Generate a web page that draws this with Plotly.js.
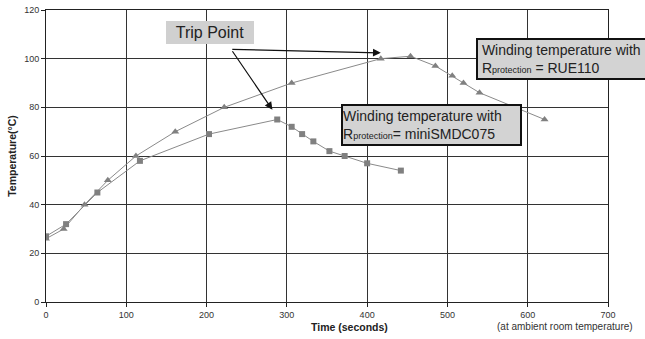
<!DOCTYPE html>
<html>
<head>
<meta charset="utf-8">
<script src="https://cdn.plot.ly/plotly-3.0.1.min.js"></script>
<style>html,body{margin:0;padding:0;background:#fff;}#chart{width:645px;height:339px;}</style>
</head>
<body>
<div id="chart"></div>
<script>
// RUE110 series (triangles)
const rueTime = [0, 22, 48, 77, 112, 161, 222, 306, 417, 454, 485, 506, 520, 540, 621];
const rueTemp = [26, 30, 40, 50, 60, 70, 80, 90, 100, 101, 97, 93, 90, 86, 75];
// miniSMDC075 series (squares)
const smdTime = [0, 25, 64, 117, 203, 288, 306, 319, 333, 353, 372, 400, 442];
const smdTemp = [27, 32, 45, 58, 69, 75, 72, 69, 66, 62, 60, 57, 54];
const xTicks = [0, 100, 200, 300, 400, 500, 600, 700];
const yTicks = [0, 20, 40, 60, 80, 100, 120];

const FONT = 'Liberation Sans, Arial, sans-serif';
const traces = [
  {x: rueTime, y: rueTemp, type: 'scatter', mode: 'lines+markers', name: 'RUE110',
   line: {color: '#8a8a8a', width: 1}, marker: {symbol: 'triangle-up', size: 7, color: '#808080'}},
  {x: smdTime, y: smdTemp, type: 'scatter', mode: 'lines+markers', name: 'miniSMDC075',
   line: {color: '#8a8a8a', width: 1}, marker: {symbol: 'square', size: 6, color: '#808080'}}
];

const layout = {
  width: 645, height: 339,
  margin: {l: 46, r: 37, t: 10, b: 37},
  paper_bgcolor: '#fff', plot_bgcolor: '#fff',
  showlegend: false,
  font: {family: FONT, color: '#333', size: 9},
  xaxis: {range: [0, 700], tickvals: xTicks, ticktext: xTicks.map(String),
    showgrid: true, gridcolor: '#333', gridwidth: 1, zeroline: false,
    showline: true, linecolor: '#222', linewidth: 1, mirror: true,
    ticks: 'outside', ticklen: 4, tickcolor: '#222', tickfont: {size: 9, color: '#333'}},
  yaxis: {range: [0, 120], tickvals: yTicks, ticktext: yTicks.map(String),
    showgrid: true, gridcolor: '#333', gridwidth: 1, zeroline: false,
    showline: true, linecolor: '#222', linewidth: 1, mirror: true,
    ticks: 'outside', ticklen: 4, tickcolor: '#222', tickfont: {size: 9, color: '#333'},
    title: {text: 'Temperature(°C)', font: {size: 10.5, color: '#222', family: FONT, weight: 'bold'}, standoff: 5},
    automargin: false},
  annotations: [
    {text: '<b>Time (seconds)</b>', xref: 'paper', yref: 'paper', x: (349 - 46) / 562, y: -(326.5 - 301.7) / 291.7,
     xanchor: 'center', yanchor: 'middle', showarrow: false, font: {size: 10.5, color: '#222'}},
    {text: '(at ambient room temperature)', xref: 'paper', yref: 'paper', x: (495 - 46) / 562, y: -(326 - 301.7) / 291.7,
     xanchor: 'left', yanchor: 'middle', showarrow: false, font: {size: 10, color: '#333'}},
    {text: 'Trip Point', xref: 'paper', yref: 'paper', x: (166 - 46) / 562, y: (301.7 - 21) / 291.7,
     xanchor: 'left', yanchor: 'top', showarrow: false, bgcolor: '#d0d0d0', borderwidth: 0, borderpad: 0,
     width: 88, height: 23, font: {size: 16, color: '#222'}},
    {text: '\u00a0Winding temperature with<br>\u00a0R<span style="font-size:9px">protection</span> = RUE110',
     xref: 'paper', yref: 'paper', x: (476 - 46) / 562, y: (301.7 - 37.7) / 291.7,
     xanchor: 'left', yanchor: 'top', align: 'left', valign: 'middle', showarrow: false,
     bgcolor: '#d3d3d3', bordercolor: '#111', borderwidth: 2, borderpad: 0, width: 172, height: 38,
     font: {size: 14, color: '#222'}},
    {text: 'Winding temperature with<br>R<span style="font-size:9px">protection</span>= miniSMDC075',
     xref: 'paper', yref: 'paper', x: (341 - 46) / 562, y: (301.7 - 104.3) / 291.7,
     xanchor: 'left', yanchor: 'top', align: 'left', valign: 'middle', showarrow: false,
     bgcolor: '#d3d3d3', bordercolor: '#111', borderwidth: 2, borderpad: 0, width: 177, height: 38,
     font: {size: 14, color: '#222'}},
    {text: '', x: 282, y: 79, xref: 'x', yref: 'y', showarrow: true, arrowhead: 2, arrowsize: 1.3,
     arrowwidth: 1.2, arrowcolor: '#111', ax: -41, ay: -60, standoff: 0},
    {text: '', x: 417, y: 102.4, xref: 'x', yref: 'y', showarrow: true, arrowhead: 2, arrowsize: 1.3,
     arrowwidth: 1.2, arrowcolor: '#111', ax: -150, ay: -3.5, standoff: 0}
  ]
};

Plotly.newPlot('chart', traces, layout, {displayModeBar: false, staticPlot: true});
</script>
</body>
</html>
